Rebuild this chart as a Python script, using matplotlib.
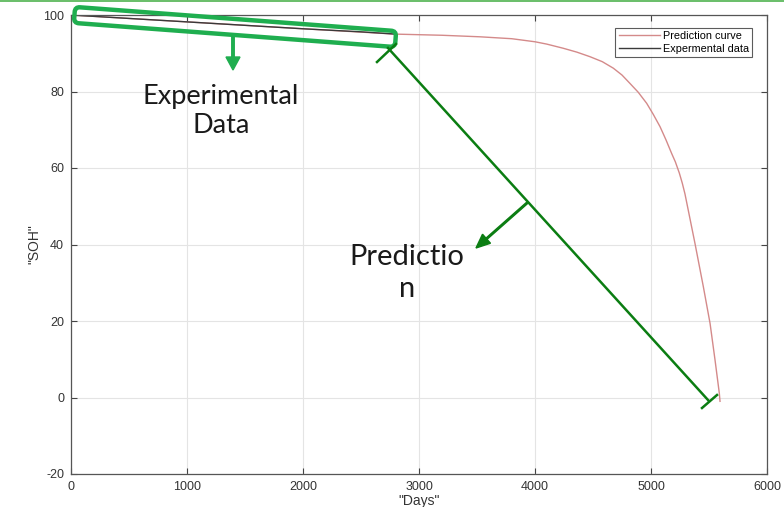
import matplotlib
matplotlib.use("Agg")
import matplotlib.pyplot as plt
from matplotlib.patches import FancyBboxPatch, FancyArrow, Rectangle
from matplotlib.lines import Line2D
from matplotlib.transforms import Affine2D, IdentityTransform

plt.rcParams["font.family"] = ["Liberation Sans", "DejaVu Sans"]
plt.rcParams["axes.unicode_minus"] = False

# Battery state-of-health data
pred_days = [0, 1000, 2000, 2800, 3200, 3526, 3800, 4000, 4100, 4244, 4360, 4474,
             4580, 4675, 4750, 4819, 4890, 4963, 5020, 5078, 5130, 5178, 5210,
             5244, 5270, 5293, 5379, 5451, 5509, 5552, 5589, 5595]
pred_soh = [100, 98.2, 96.4, 95.0, 94.7, 94.3, 93.8, 93.0, 92.4, 91.3, 90.3, 89.1,
            87.8, 86.1, 84.3, 82.1, 79.8, 76.9, 74.0, 70.8, 67.3, 63.8, 61.6,
            58.7, 56.0, 53.2, 40.3, 29.0, 19.4, 9.8, 1.1, -1.0]
exp_days = [0, 500, 1000, 1500, 2000, 2500, 2800]
exp_soh = [100, 99.1, 98.2, 97.3, 96.4, 95.6, 95.0]

x_ticks = [0, 1000, 2000, 3000, 4000, 5000, 6000]
y_ticks = [-20, 0, 20, 40, 60, 80, 100]

W, H = 784, 507
fig = plt.figure(figsize=(W / 100, H / 100), dpi=100)
ax = fig.add_axes([71 / W, 1 - 474 / H, (767 - 71) / W, (474 - 15) / H])

ax.plot(pred_days, pred_soh, color="#d48a8a", lw=1.0, label="Prediction curve")
ax.plot(exp_days, exp_soh, color="#3a3a3a", lw=1.0, label="Expermental data")

ax.set_xlim(0, 6000)
ax.set_ylim(-20, 100)
ax.set_xticks(x_ticks)
ax.set_yticks(y_ticks)
ax.grid(True, color="#e4e4e4", lw=0.8)
ax.set_axisbelow(True)
ax.tick_params(direction="in", top=True, right=True, length=4, width=0.8,
               labelsize=9, colors="#444444", labelcolor="#333333", pad=5)
for s in ax.spines.values():
    s.set_color("#555555")
    s.set_linewidth(0.9)
ax.set_xlabel('"Days"', fontsize=10, color="#333333", labelpad=1)
ax.set_ylabel('"SOH"', fontsize=10, color="#333333", labelpad=1)

leg = ax.legend(loc="upper right", bbox_to_anchor=(0.979, 0.972), fontsize=7.8,
                frameon=True, fancybox=False, edgecolor="#333333",
                handlelength=3.8, handletextpad=0.3, borderpad=0.3,
                labelspacing=0.25, borderaxespad=0)
leg.get_frame().set_linewidth(0.8)


# Overlay annotations, placed in image pixels (origin at top-left)
def px(x, y):
    return x, H - y


pix = IdentityTransform()
bright = "#1fae4f"
dark = "#0b7d12"

# Rounded frame around the measured segment
cx, cy = px(235, 27)
frame = FancyBboxPatch((cx - 161, cy - 8), 322, 16,
                       boxstyle="round,pad=0,rounding_size=5",
                       fill=False, ec=bright, lw=3.2,
                       transform=Affine2D().rotate_deg_around(cx, cy, -4.3) + pix)
fig.add_artist(frame)

# Arrow pointing down to the label
x0, y0 = px(233, 36)
fig.add_artist(FancyArrow(x0, y0, 0, -34, width=2.5, head_width=14, head_length=13,
                          length_includes_head=True, color=bright, transform=pix))
fig.text(221 / W, 1 - 111 / H, "Experimental\nData", ha="center", va="center",
         fontsize=19.5, family="Lato", color="#1a1a1a", linespacing=1.2)

# Bracket line spanning the predicted segment
for (xa, ya), (xb, yb) in [((388, 48), (708, 400)),
                            ((377, 62), (396, 44)),
                            ((702, 408), (717, 395))]:
    a = px(xa, ya)
    b = px(xb, yb)
    fig.add_artist(Line2D([a[0], b[0]], [a[1], b[1]], color=dark, lw=1.8,
                          transform=pix))

x1, y1 = px(527, 203)
fig.add_artist(FancyArrow(x1, y1, -51, -45, width=1.6, head_width=12, head_length=14,
                          length_includes_head=True, color=dark, transform=pix))
fig.text(407 / W, 1 - 273 / H, "Predictio\nn", ha="center", va="center",
         fontsize=21, family="Lato", color="#1a1a1a", linespacing=1.3)

# Slide border line along the top edge
fig.add_artist(Rectangle((0, H - 2), W, 2, color="#6cbf6c", transform=pix, lw=0))

fig.savefig("out.png", dpi=100)
